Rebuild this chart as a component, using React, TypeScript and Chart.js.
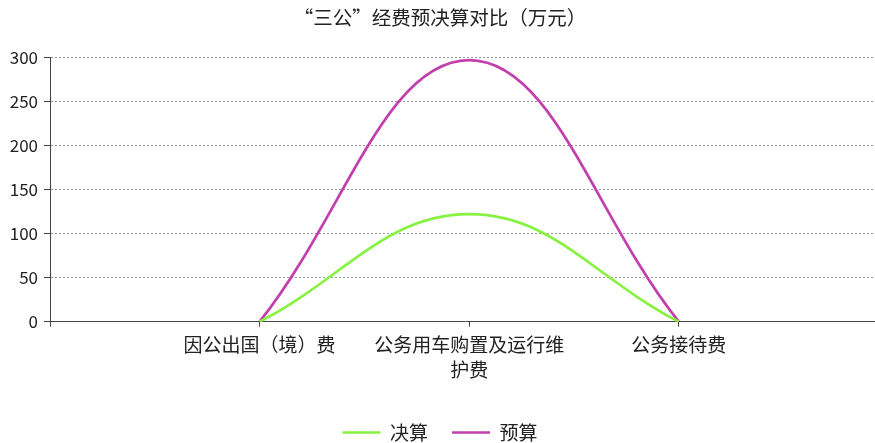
import { useEffect, useRef } from 'react'
import { Chart, registerables } from 'chart.js'
Chart.register(...registerables)

const TITLE = '“三公”经费预决算对比（万元）'
const CATEGORIES: (string | string[])[] = ['因公出国（境）费', ['公务用车购置及运行维', '护费'], '公务接待费']
const ACTUAL = [0, 122, 0]
const BUDGET = [0, 297, 0]
const Y_TICKS = [0, 50, 100, 150, 200, 250, 300]

const FONT = "'Noto Sans CJK SC', 'Noto Sans', sans-serif"

export default function App() {
  const ref = useRef<HTMLCanvasElement>(null)

  useEffect(() => {
    document.body.style.margin = '0'
    if (!ref.current) return
    const pts = (vals: number[]) => vals.map((v, i) => ({ x: i + 1, y: v }))
    const chart = new Chart(ref.current, {
      type: 'line',
      data: {
        datasets: [
          { label: '决算', data: pts(ACTUAL), borderColor: '#88f242', backgroundColor: '#88f242', borderWidth: 2.7, pointRadius: 0, tension: 0.4 },
          { label: '预算', data: pts(BUDGET), borderColor: '#c23fae', backgroundColor: '#c23fae', borderWidth: 2.7, pointRadius: 0, tension: 0.4 },
        ],
      },
      options: {
        animation: false,
        responsive: false,
        layout: { padding: { left: 0, right: 0, top: 0, bottom: -9 } },
        plugins: {
          title: { display: true, text: TITLE, color: '#222', font: { size: 19.5, family: FONT, weight: 'normal' }, padding: { top: 6, bottom: 28 } },
          legend: {
            position: 'bottom',
            labels: { usePointStyle: true, pointStyle: 'line', pointStyleWidth: 38, boxHeight: 10, color: '#222', padding: 24, font: { size: 19, family: FONT } },
          },
          tooltip: { enabled: false },
        },
        scales: {
          x: {
            type: 'linear', min: 0, max: 3.96,
            afterBuildTicks: (s) => { s.ticks = [0, 1, 2, 3].map(v => ({ value: v })) },
            afterFit: (s) => { s.height += 11 },
            ticks: { color: '#222', maxRotation: 0, autoSkip: false, padding: 5, font: { size: 19, family: FONT, lineHeight: 1.35 }, callback: (v) => CATEGORIES[Number(v) - 1] ?? '' },
            grid: { drawOnChartArea: false, tickLength: 5, tickColor: '#444' },
            border: { color: '#444', width: 1 },
          },
          y: {
            min: 0, max: 300,
            afterBuildTicks: (s) => { s.ticks = Y_TICKS.map(v => ({ value: v })) },
            afterFit: (s) => { s.width = 50 },
            ticks: { color: '#222', padding: 6, font: { size: 17, family: FONT } },
            grid: { color: '#999', tickLength: 6, tickColor: '#444' },
            border: { color: '#444', width: 1, dash: [2, 2] },
          },
        },
      },
    })
    return () => { chart.destroy() }
  }, [])

  return (
    <div style={{ width: 875, height: 443, background: '#fff', overflow: 'hidden' }}>
      <canvas ref={ref} width={880} height={443} style={{ display: 'block' }} />
    </div>
  )
}
